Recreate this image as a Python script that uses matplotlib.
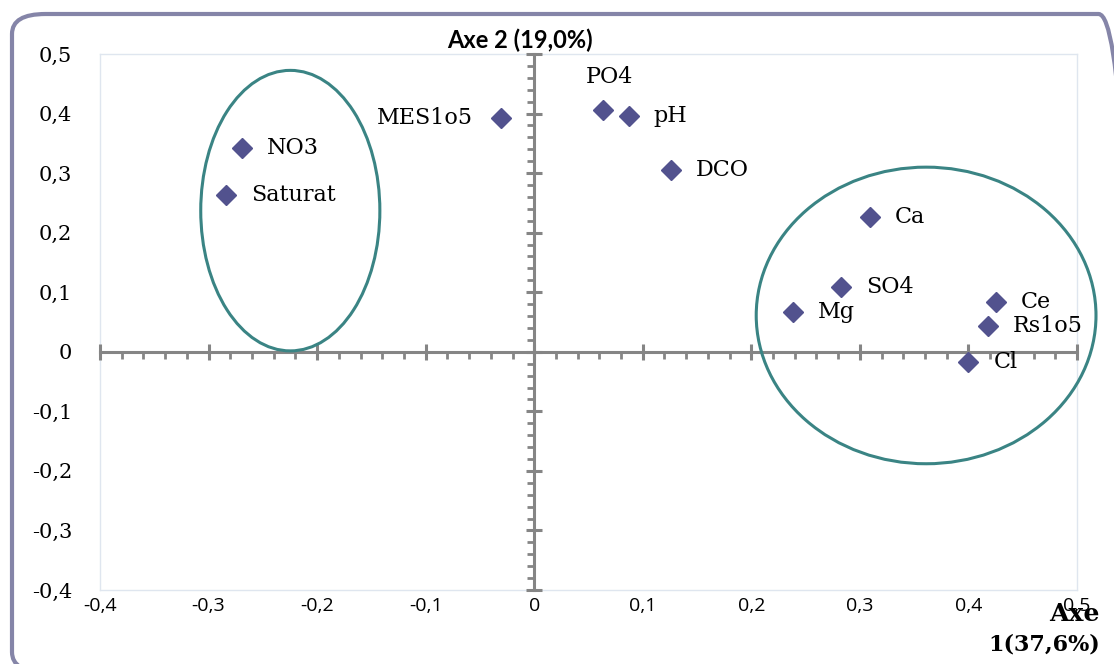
import matplotlib.pyplot as plt
from matplotlib.patches import Ellipse, FancyBboxPatch
from matplotlib.ticker import MultipleLocator, FixedLocator

# coordonnées des variables sur le plan factoriel 1-2
variables = ['NO3', 'Saturat', 'MES105', 'PO4', 'pH', 'DCO', 'Ca', 'SO4', 'Mg', 'Ce', 'Rs105', 'Cl']
axe1 = [-0.269, -0.284, -0.031, 0.063, 0.087, 0.126, 0.309, 0.283, 0.238, 0.425, 0.418, 0.400]
axe2 = [0.343, 0.263, 0.392, 0.406, 0.396, 0.305, 0.227, 0.108, 0.066, 0.084, 0.044, -0.017]

xticks = [-0.4, -0.3, -0.2, -0.1, 0, 0.1, 0.2, 0.3, 0.4, 0.5]
xlabels = ['-0,4', '-0,3', '-0,2', '-0,1', '0', '0,1', '0,2', '0,3', '0,4', '0,5']
yticks = [0.5, 0.4, 0.3, 0.2, 0.1, 0, -0.1, -0.2, -0.3, -0.4]
ylabels = ['0,5', '0,4', '0,3', '0,2', '0,1', '0', '-0,1', '-0,2', '-0,3', '-0,4']

# groupes entourés : (centre x, centre y, largeur, hauteur)
groupes = [(-0.2247, 0.237, 0.165, 0.471), (0.361, 0.061, 0.313, 0.498)]

W, H = 1114, 664
fig = plt.figure(figsize=(W / 100, H / 100), dpi=100)
pos = [100 / W, 1 - 590 / H, 977 / W, 536 / H]

# cadre arrondi autour du graphique
cadre = FancyBboxPatch((12 / W, -8 / H), 1120 / W, 658 / H,
                       boxstyle='round,pad=0,rounding_size=0.03',
                       transform=fig.transFigure, fill=False,
                       edgecolor='#8585a8', linewidth=3, clip_on=False)
fig.patches.append(cadre)

# axes pour le cadre de la zone de tracé et les étiquettes
ax_lab = fig.add_axes(pos)
ax_lab.set_xlim(-0.4, 0.5)
ax_lab.set_ylim(-0.4, 0.5)
for s in ax_lab.spines.values():
    s.set_color('#dfe6ef')
    s.set_linewidth(1)
ax_lab.xaxis.set_major_locator(FixedLocator(xticks))
ax_lab.set_xticklabels(xlabels, fontfamily='Open Sans', fontsize=14)
ax_lab.yaxis.set_major_locator(FixedLocator(yticks))
ax_lab.set_yticklabels(ylabels, fontfamily='DejaVu Serif', fontsize=15)
ax_lab.tick_params(axis='x', length=0, pad=5)
ax_lab.tick_params(axis='y', length=0, pad=20)

# axes des données avec les axes croisés en 0
ax = fig.add_axes(pos)
ax.set_facecolor('none')
ax.set_xlim(-0.4, 0.5)
ax.set_ylim(-0.4, 0.5)
ax.spines['top'].set_visible(False)
ax.spines['right'].set_visible(False)
for side in ['left', 'bottom']:
    ax.spines[side].set_position(('data', 0))
    ax.spines[side].set_color('#858585')
    ax.spines[side].set_linewidth(2.2)
ax.xaxis.set_major_locator(MultipleLocator(0.1))
ax.xaxis.set_minor_locator(MultipleLocator(0.02))
ax.yaxis.set_major_locator(MultipleLocator(0.1))
ax.yaxis.set_minor_locator(MultipleLocator(0.02))
ax.tick_params(which='major', direction='inout', length=11, width=2.2, color='#858585',
               labelbottom=False, labelleft=False)
ax.tick_params(which='minor', direction='out', length=5, width=2, color='#858585')

ax.plot(axe1, axe2, 'D', color='#52528e', markersize=10, linestyle='none', zorder=5)

decal = {'MES105': (-28, 0, 'right', 'center'), 'PO4': (7, 22, 'center', 'bottom')}
noms = {'MES105': 'MES1o5', 'Rs105': 'Rs1o5'}
for nom, x, y in zip(variables, axe1, axe2):
    dx, dy, ha, va = decal.get(nom, (25, 0, 'left', 'center'))
    ax.annotate(noms.get(nom, nom), (x, y), xytext=(dx * 0.72, dy * 0.72),
                textcoords='offset points', ha=ha, va=va,
                fontfamily='DejaVu Serif', fontsize=16, zorder=6)

for cx, cy, w, h in groupes:
    ax.add_patch(Ellipse((cx, cy), w, h, fill=False, edgecolor='#3a8484',
                         linewidth=2.2, clip_on=False, zorder=4))

fig.text(520 / W, 1 - 40 / H, 'Axe 2 (19,0%)', ha='center', va='center',
         fontfamily='Lato', fontweight='bold', fontsize=17)
fig.text(1100 / W, 1 - 614 / H, 'Axe', ha='right', va='center',
         fontfamily='DejaVu Serif', fontweight='bold', fontsize=18)
fig.text(1100 / W, 1 - 645 / H, '1(37,6%)', ha='right', va='center',
         fontfamily='DejaVu Serif', fontweight='bold', fontsize=16)

fig.savefig('out.png', dpi=100)
